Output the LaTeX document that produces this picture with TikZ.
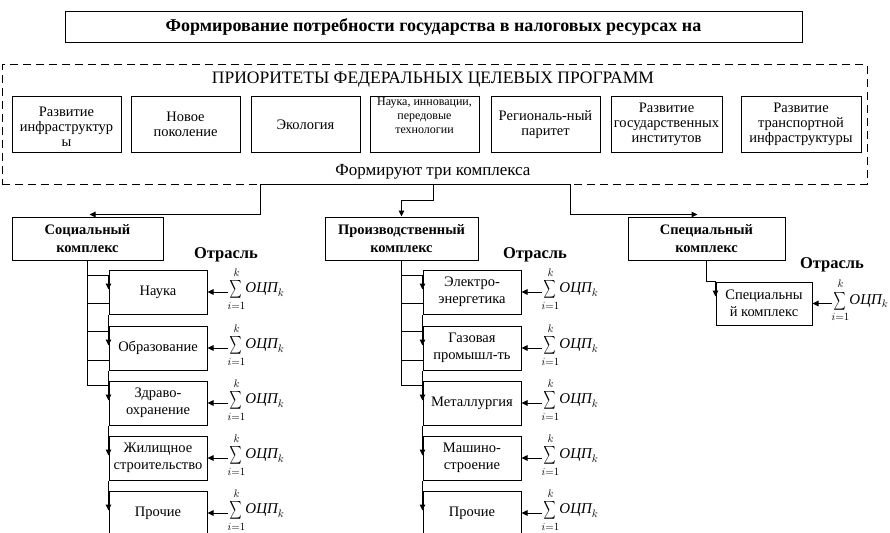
\documentclass[tikz,border=0pt]{standalone}
\usepackage{amsmath}
\usepackage{graphicx}
\usepackage{fontspec}
\setmainfont{Liberation Serif}
\usetikzlibrary{positioning,arrows.meta,calc}

\newcommand{\ocpsum}{$\displaystyle\mathop{\scalebox{0.58}[0.88]{$\displaystyle\sum$}}\limits_{i=1}^{k}\!\textit{ОЦП}_k$}

\begin{document}
\begin{tikzpicture}[x=1pt,y=1pt,
    node distance=10pt,
    box/.style={draw,line width=1pt,align=center,inner sep=1pt},
    prog/.style={box,minimum width=109pt,minimum height=55pt,font=\fontsize{14.5}{15}\selectfont},
    cmplx/.style={box,minimum height=43pt,font=\bfseries\fontsize{14.5}{18}\selectfont},
    sect/.style={box,minimum width=98pt,minimum height=44pt,font=\fontsize{14.5}{17}\selectfont},
    sumlbl/.style={inner sep=0pt,yshift=3pt,font=\fontsize{15}{17}\selectfont},
    otr/.style={font=\bfseries\fontsize{16.5}{18}\selectfont},
    arr/.style={-{Triangle[length=6pt,width=5.5pt]},line width=1pt},
    line/.style={line width=1pt}
  ]
    \useasboundingbox (0,0) rectangle (890,-532);
    % title and programme block
    \node[box,minimum width=737pt,minimum height=31pt,font=\bfseries\fontsize{18}{20}\selectfont] (title) at (433.5,-27.5) {Формирование потребности государства в налоговых ресурсах на};
    \node[draw,line width=1pt,dash pattern=on 8pt off 5pt,minimum width=865pt,minimum height=119pt] (prio) at (434.5,-124.5) {};
    \node[font=\fontsize{17.5}{19}\selectfont] (prhead) at (433,-80) {ПРИОРИТЕТЫ ФЕДЕРАЛЬНЫХ ЦЕЛЕВЫХ ПРОГРАММ};
    \node[font=\fontsize{17}{19}\selectfont] (prfoot) at (433,-172) {Формируют три комплекса};
    \node[prog] (p1) at (66.5,-124.5) {\mbox{}\\[-2pt]Развитие\\инфраструктур\\ы};
    \node[prog,right=9pt of p1] (p2) {Новое\\поколение};
    \node[prog,right=10pt of p2] (p3) {Экология};
    \node[prog,right=9pt of p3,font=\fontsize{12}{14}\selectfont] (p4) {Наука, инновации,\\передовые\\технологии\\[4pt]};
    \node[prog,right=11pt of p4] (p5) {Региональ-ный\\паритет};
    \node[prog,right=10pt of p5,minimum width=111pt] (p6) {Развитие\\государственных\\институтов};
    \node[prog,right=18pt of p6,minimum width=120pt] (p7) {Развитие\\транспортной\\инфраструктуры};
    % complexes
    \node[cmplx,minimum width=151pt] (soc) at (87.5,-238.5) {Социальный\\комплекс};
    \node[cmplx,minimum width=153pt] (prod) at (401.5,-238.5) {Производственный\\комплекс};
    \node[cmplx,minimum width=157pt] (spec) at (706.5,-238.5) {Специальный\\комплекс};
    \node[otr] (otr1) at (226,-255) {Отрасль};
    \node[otr] (otr2) at (535,-255) {Отрасль};
    \node[otr] (otr3) at (832,-265) {Отрасль};
    % branches
    \node[sect] (s1) at (158,-292) {Наука};
    \node[sect,below=11pt of s1] (s2) {Образование};
    \node[sect,below=of s2] (s3) {Здраво-\\охранение};
    \node[sect,below=of s3] (s4) {Жилищное\\строительство};
    \node[sect,below=of s4] (s5) {Прочие};
    \node[sect] (m1) at (472,-292) {Электро-\\энергетика};
    \node[sect,below=11pt of m1] (m2) {Газовая\\промышл-ть};
    \node[sect,below=of m2] (m3) {Металлургия};
    \node[sect,below=of m3] (m4) {Машино-\\строение};
    \node[sect,below=of m4] (m5) {Прочие};
    \node[sect,minimum width=96pt,minimum height=43pt] (q1) at (764,-303.5) {Специальны\\й комплекс};
    % sums
    \foreach \i in {1,...,5} {
      \node[sumlbl,right=20pt of s\i] (ks\i) {\ocpsum};
      \node[sumlbl,right=20pt of m\i] (km\i) {\ocpsum};
      \draw[arr] (ks\i.west |- s\i.east) -- (s\i.east);
      \draw[arr] (km\i.west |- m\i.east) -- (m\i.east);
    }
    \node[sumlbl,right=19pt of q1] (kq1) {\ocpsum};
    \draw[arr] (kq1.west |- q1.east) -- (q1.east);
    % bus from the programme block
    \coordinate (busl) at (260,-184);
    \coordinate (busm) at (433,-184);
    \coordinate (busr) at (570,-184);
    \coordinate (socin) at ($(soc.north west)+(78,2)$);
    \coordinate (specin) at ($(spec.north west)+(70,2)$);
    \draw[line] (busl) -- (busr);
    \draw[arr] (busl) |- (socin);
    \draw[arr] (busm) -- ++(0,-16) -| (prod.north);
    \draw[arr] (busr) |- (specin);
    % trunks
    \coordinate (t1) at ($(s1.north west)+(0,-6)$);
    \coordinate (t2) at ($(s1.south west)+(0,11)$);
    \coordinate (t3) at ($(s2.north west)+(0,-6)$);
    \coordinate (t4) at ($(s2.south west)+(0,10)$);
    \coordinate (t5) at ($(s3.north west)+(0,-5)$);
    \coordinate (u1) at ($(m1.north west)+(0,-6)$);
    \coordinate (u2) at ($(m1.south west)+(0,11)$);
    \coordinate (u3) at ($(m2.north west)+(0,-6)$);
    \coordinate (u4) at ($(m2.south west)+(0,10)$);
    \coordinate (u5) at ($(m3.north west)+(0,-5)$);
    \foreach \n in {1,...,5} {
      \draw[line] (soc.south) |- (t\n);
      \draw[line] (prod.south) |- (u\n);
    }
    \draw[arr] (t1) -- ($(s1.north west)+(0,-20)$);
    \draw[arr] (u1) -- ($(m1.north west)+(0,-20)$);
    \foreach \a/\b in {1/2,2/3,3/4,4/5} {
      \draw[arr] (s\a.south west) -- ($(s\b.north west)+(0,-20)$);
      \draw[arr] (m\a.south west) -- ($(m\b.north west)+(0,-20)$);
    }
    \draw[arr] (spec.south) |- (q1.north west) -- ($(q1.north west)+(0,-15)$);
  \end{tikzpicture}
\end{document}
